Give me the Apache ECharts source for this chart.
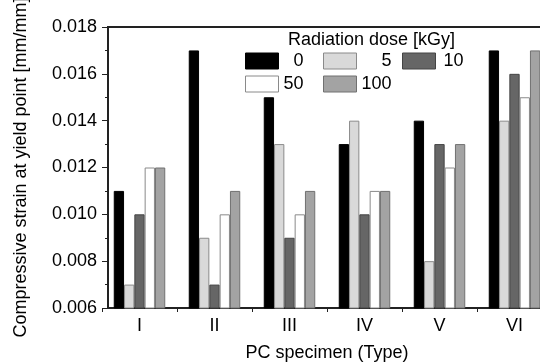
<!DOCTYPE html>
<html>
<head>
<meta charset="utf-8">
<script src="https://cdn.jsdelivr.net/npm/echarts@6/dist/echarts.min.js"></script>
<style>html,body{margin:0;padding:0;background:#fff;}#c{width:540px;height:363px;}</style>
</head>
<body>
<div id="c"></div>
<script>
const categories = ['I', 'II', 'III', 'IV', 'V', 'VI'];
const doseNames = ['0', '5', '10', '50', '100'];
const dose0 = [0.011, 0.017, 0.015, 0.013, 0.014, 0.017];
const dose5 = [0.007, 0.009, 0.013, 0.014, 0.008, 0.014];
const dose10 = [0.010, 0.007, 0.009, 0.010, 0.013, 0.016];
const dose50 = [0.012, 0.010, 0.010, 0.011, 0.012, 0.015];
const dose100 = [0.012, 0.011, 0.011, 0.011, 0.013, 0.017];
const yMin = 0.006, yMax = 0.018, yInterval = 0.002;

const FONT = "'Liberation Sans', Arial, Helvetica, sans-serif";
const seriesData = [dose0, dose5, dose10, dose50, dose100];
const fills = ['#000000', '#d9d9d9', '#666666', '#ffffff', '#a3a3a3'];
const borders = ['#000000', '#8a8a8a', '#444444', '#8a8a8a', '#707070'];

const chart = echarts.init(document.getElementById('c'), null, {renderer: 'canvas'});

function legendAt(name, left, top, labelWidth) {
  return {
    data: [name], left: left, top: top, padding: 0, orient: 'horizontal',
    itemWidth: 33, itemHeight: 16, itemGap: 0, icon: 'rect', selectedMode: false,
    formatter: '{a|{name}}',
    textStyle: {color: '#000', fontSize: 18, fontFamily: FONT,
      rich: {a: {width: labelWidth, align: 'right', fontSize: 18, fontFamily: FONT, color: '#000'}}},
    itemStyle: {borderWidth: 1}
  };
}

const option = {
  animation: false,
  backgroundColor: '#fff',
  title: {text: 'Radiation dose [kGy]', left: 288, top: 31, padding: 0,
    textStyle: {fontSize: 18, fontWeight: 'normal', color: '#000', fontFamily: FONT}},
  legend: [
    legendAt('0', 245, 52, 20),
    legendAt('5', 323, 52, 30),
    legendAt('10', 402, 52, 23),
    legendAt('50', 245, 75, 20),
    legendAt('100', 323, 75, 30)
  ],
  grid: [
    {left: 108, top: 27, width: 438, height: 281, outerBoundsMode: 'none', containLabel: false,
      show: true, borderColor: '#222', borderWidth: 2, backgroundColor: 'transparent'},
    {left: 102, top: 27, width: 450, height: 281, outerBoundsMode: 'none', containLabel: false}
  ],
  xAxis: [
    {type: 'value', gridIndex: 0, min: 0, max: 1, show: true,
      axisLine: {show: true, lineStyle: {color: '#222', width: 2}}, axisTick: {show: false},
      axisLabel: {show: false}, splitLine: {show: false},
      name: 'PC specimen (Type)', nameLocation: 'middle', nameGap: 36,
      nameTextStyle: {fontSize: 18, color: '#000', fontFamily: FONT}},
    {type: 'category', gridIndex: 1, data: categories, boundaryGap: true,
      axisLine: {show: false},
      axisTick: {show: true, alignWithLabel: false, length: 4, lineStyle: {color: '#222', width: 1}},
      axisLabel: {fontSize: 18, color: '#000', fontFamily: FONT, margin: 9},
      splitLine: {show: false}}
  ],
  yAxis: [
    {type: 'value', gridIndex: 0, min: yMin, max: yMax, interval: yInterval,
      axisLine: {show: true, lineStyle: {color: '#222', width: 2}},
      axisTick: {show: true, length: 6, lineStyle: {color: '#222', width: 1}},
      minorTick: {show: true, splitNumber: 2, length: 3, lineStyle: {color: '#222', width: 1}},
      axisLabel: {fontSize: 18, color: '#000', fontFamily: FONT, margin: 11,
        formatter: v => v.toFixed(3)},
      splitLine: {show: false}, minorSplitLine: {show: false},
      name: 'Compressive strain at yield point [mm/mm]', nameLocation: 'middle', nameGap: 78,
      nameTextStyle: {fontSize: 18, color: '#000', fontFamily: FONT}},
    {type: 'value', gridIndex: 1, min: yMin, max: yMax, interval: yInterval, show: false}
  ],
  series: seriesData.map((d, i) => ({
    name: doseNames[i], type: 'bar', xAxisIndex: 1, yAxisIndex: 1,
    data: d, barWidth: 10.3, barGap: '0%',
    itemStyle: {color: fills[i], borderColor: borders[i], borderWidth: 1}
  }))
};
chart.setOption(option);
</script>
</body>
</html>
